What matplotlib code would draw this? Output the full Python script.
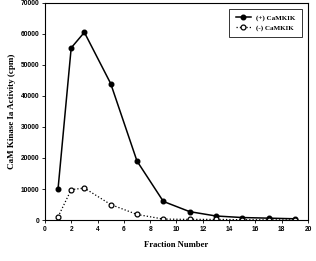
import matplotlib
matplotlib.use("Agg")
import matplotlib.pyplot as plt

plt.rcParams.update({
    "font.family": ["Liberation Serif", "DejaVu Serif"],
    "font.weight": "bold",
})

fractions = [1, 2, 3, 5, 7, 9, 11, 13, 15, 17, 19]
plus_camkk = [10000, 55500, 60500, 44000, 19000, 6000, 2700, 1300, 800, 600, 400]
minus_camkk = [1000, 9800, 10300, 5000, 1800, 300, 200, 200, 100, 50, 50]
xticks = list(range(0, 21, 2))
yticks = list(range(0, 70001, 10000))

fig = plt.figure(figsize=(3.16, 2.61), dpi=100)
ax = fig.add_axes([0.142, 0.157, 0.833, 0.832])

ax.plot(fractions, plus_camkk, "-", color="black", lw=1.1, marker="o",
        ms=3.3, mfc="black", label="(+) CaMKIK")
ax.plot(fractions, minus_camkk, ":", color="black", lw=0.9, marker="o",
        ms=3.5, mfc="white", mew=0.9, label="(-) CaMKIK")

ax.set_xlim(0, 20)
ax.set_ylim(0, 70000)
ax.set_xticks(xticks)
ax.set_yticks(yticks)
ax.tick_params(labelsize=4.8, length=2, width=0.6, pad=2)
for lbl in ax.get_xticklabels() + ax.get_yticklabels():
    lbl.set_fontfamily("Liberation Sans")
    lbl.set_fontweight("bold")
for s in ax.spines.values():
    s.set_linewidth(0.8)

ax.set_xlabel("Fraction Number", fontsize=6.2, fontweight="bold", labelpad=6)
ax.set_ylabel("CaM Kinase Ia Activity (cpm)", fontsize=6.5, fontweight="bold", labelpad=3)

leg = ax.legend(loc="upper right", fontsize=5, frameon=True, fancybox=False,
                edgecolor="black", handlelength=2.2, borderpad=0.9,
                bbox_to_anchor=(0.99, 0.99))
leg.get_frame().set_linewidth(0.7)

fig.savefig("out.png", dpi=100)
